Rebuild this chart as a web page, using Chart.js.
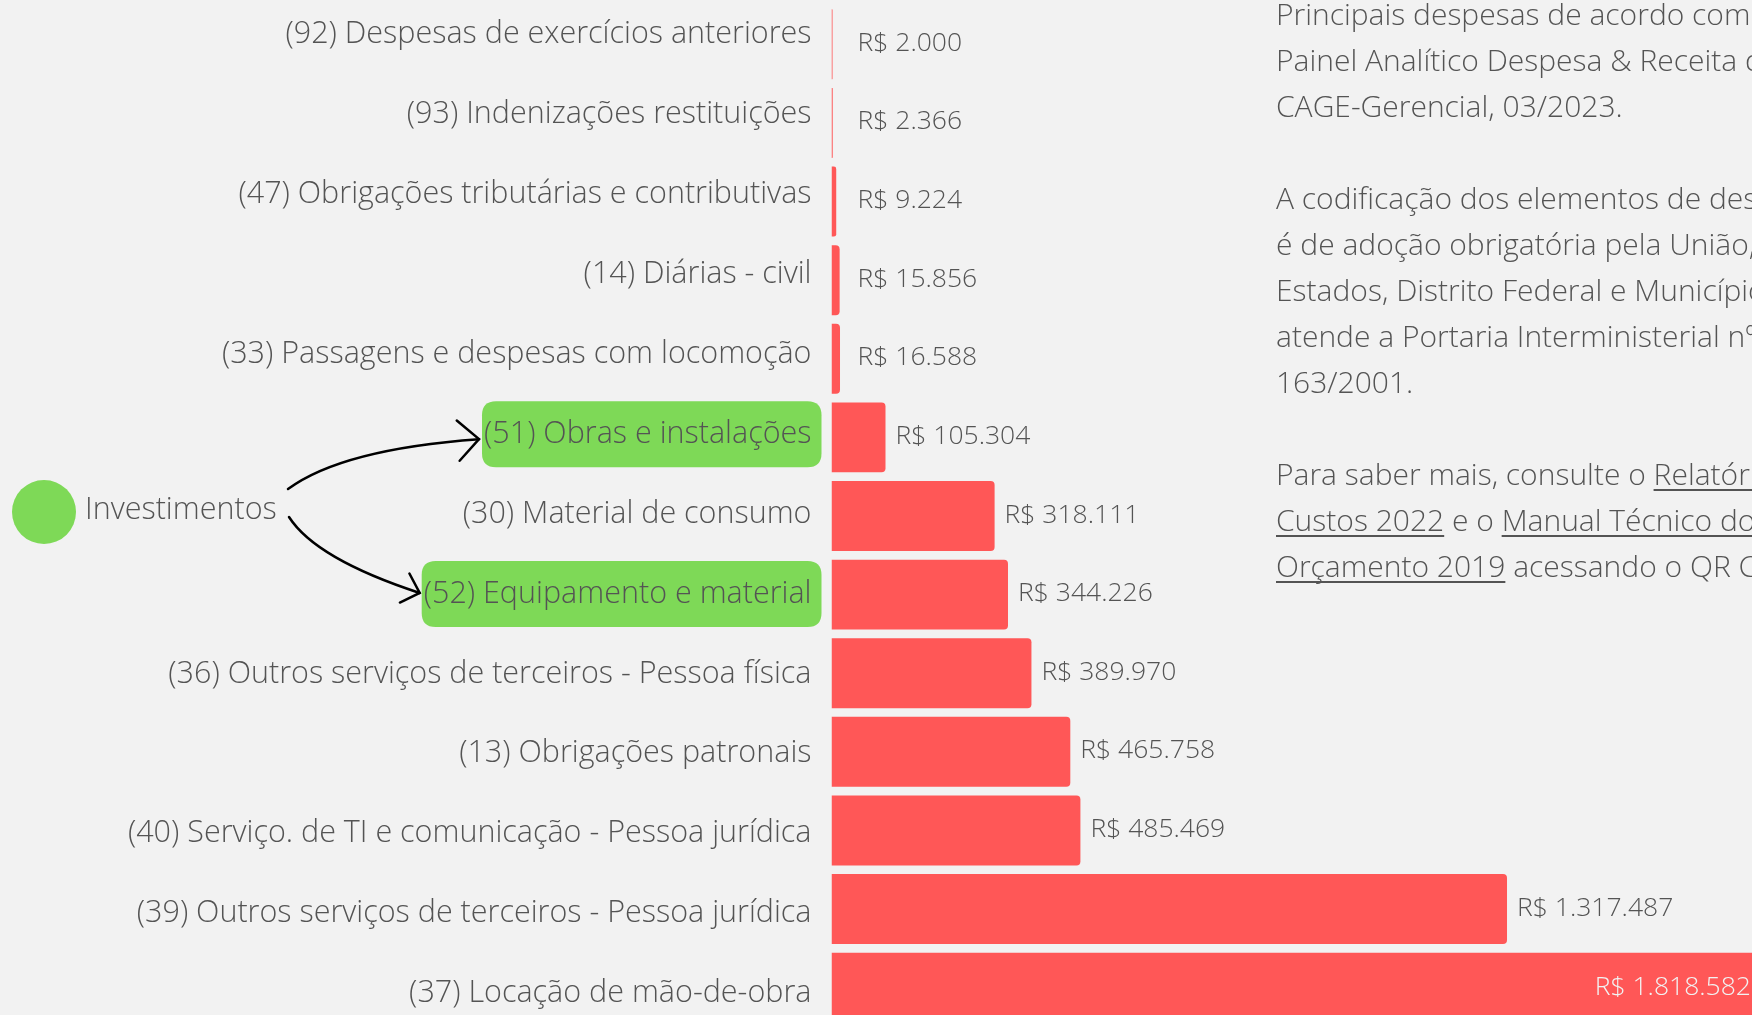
<!DOCTYPE html>
<html lang="pt-BR">
<head>
<meta charset="UTF-8">
<title>Principais despesas por elemento</title>
<script src="https://cdn.jsdelivr.net/npm/chart.js"></script>
<style>
  html, body { margin: 0; padding: 0; background: #f2f2f2; overflow: hidden; }
  canvas { display: block; }
</style>
</head>
<body>
<canvas id="despesas" width="1752" height="1027"></canvas>
<script>
// elementos de despesa, do menor para o maior
const categorias = [
  '(92) Despesas de exercícios anteriores',
  '(93) Indenizações restituições',
  '(47) Obrigações tributárias e contributivas',
  '(14) Diárias - civil',
  '(33) Passagens e despesas com locomoção',
  '(51) Obras e instalações',
  '(30) Material de consumo',
  '(52) Equipamento e material',
  '(36) Outros serviços de terceiros - Pessoa física',
  '(13) Obrigações patronais',
  '(40) Serviço. de TI e comunicação - Pessoa jurídica',
  '(39) Outros serviços de terceiros - Pessoa jurídica',
  '(37) Locação de mão-de-obra'
];
const valores = [2000, 2366, 9224, 15856, 16588, 105304, 318111, 344226, 389970, 465758, 485469, 1317487, 1818582];
const investimentos = ['(51) Obras e instalações', '(52) Equipamento e material'];

// texto lateral: cada linha é uma lista de trechos [texto, sublinhado]
const notas = [
  [['Principais despesas de acordo com o', false]],
  [['Painel Analítico Despesa & Receita do', false]],
  [['CAGE-Gerencial, 03/2023.', false]],
  [],
  [['A codificação dos elementos de despesa', false]],
  [['é de adoção obrigatória pela União,', false]],
  [['Estados, Distrito Federal e Municípios e', false]],
  [['atende a Portaria Interministerial nº', false]],
  [['163/2001.', false]],
  [],
  [['Para saber mais, consulte o ', false], ['Relatório de', true]],
  [['Custos 2022', true], [' e o ', false], ['Manual Técnico do', true]],
  [['Orçamento 2019', true], [' acessando o QR Code.', false]]
];

const VERMELHO = '#ff5757';
const VERDE = '#7ed957';
const CINZA = '#545454';
const FONTE = '"Open Sans", sans-serif';
const PESO = 300;
const TAM_ROTULO = 30.5;

const fmtReal = v => 'R$ ' + v.toLocaleString('pt-BR');

function caixaArredondada(ctx, x, y, w, h, r) {
  ctx.beginPath();
  ctx.moveTo(x + r, y);
  ctx.lineTo(x + w - r, y);
  ctx.quadraticCurveTo(x + w, y, x + w, y + r);
  ctx.lineTo(x + w, y + h - r);
  ctx.quadraticCurveTo(x + w, y + h, x + w - r, y + h);
  ctx.lineTo(x + r, y + h);
  ctx.quadraticCurveTo(x, y + h, x, y + h - r);
  ctx.lineTo(x, y + r);
  ctx.quadraticCurveTo(x, y, x + r, y);
  ctx.closePath();
}

function seta(ctx, x0, y0, cx, cy, x1, y1, ponta) {
  ctx.beginPath();
  ctx.moveTo(x0, y0);
  ctx.quadraticCurveTo(cx, cy, x1, y1);
  ctx.stroke();
  const ang = Math.atan2(y1 - cy, x1 - cx);
  const abre = 44 * Math.PI / 180;
  ctx.beginPath();
  ctx.moveTo(x1 + ponta * Math.cos(ang + Math.PI - abre), y1 + ponta * Math.sin(ang + Math.PI - abre));
  ctx.lineTo(x1, y1);
  ctx.lineTo(x1 + ponta * Math.cos(ang + Math.PI + abre), y1 + ponta * Math.sin(ang + Math.PI + abre));
  ctx.stroke();
}

// caixas verdes atrás dos rótulos de investimento, bolinha e setas
const destaque = {
  id: 'destaque',
  beforeDraw(chart) {
    const ctx = chart.ctx;
    const eixo = chart.scales.rotulos;
    const fimRotulo = chart.chartArea.left - 20;
    ctx.save();
    ctx.font = `${PESO} ${TAM_ROTULO}px ${FONTE}`;
    const caixas = investimentos.map(nome => {
      const i = categorias.indexOf(nome);
      const cy = eixo.getPixelForValue(i);
      const w = ctx.measureText(nome).width;
      const x = fimRotulo - w - 2;
      ctx.fillStyle = VERDE;
      caixaArredondada(ctx, x, cy - 33, fimRotulo + 10 - x, 66, 14);
      ctx.fill();
      return { x, cy };
    });

    ctx.fillStyle = VERDE;
    ctx.beginPath();
    ctx.arc(44, 512, 32, 0, 2 * Math.PI);
    ctx.fill();
    ctx.fillStyle = CINZA;
    ctx.textBaseline = 'middle';
    ctx.fillText('Investimentos', 85, 510);

    ctx.strokeStyle = '#000';
    ctx.lineWidth = 2.5;
    ctx.lineCap = 'round';
    const [a, b] = caixas;
    seta(ctx, 288, 489, 342, 449, a.x - 3, a.cy + 5, 29);
    seta(ctx, 289, 517, 316, 559, b.x - 2, b.cy - 1, 22);
    ctx.restore();
  }
};

// valores ao lado de cada barra
const valoresBarras = {
  id: 'valoresBarras',
  afterDatasetsDraw(chart) {
    const ctx = chart.ctx;
    const meta = chart.getDatasetMeta(0);
    const area = chart.chartArea;
    ctx.save();
    ctx.font = `${PESO} 26.5px ${FONTE}`;
    ctx.textBaseline = 'middle';
    meta.data.forEach((bar, i) => {
      const txt = fmtReal(valores[i]);
      if (bar.x > area.right) {
        ctx.fillStyle = '#f2f2f2';
        ctx.textAlign = 'right';
        ctx.fillText(txt, area.right - 1, bar.y);
      } else {
        ctx.fillStyle = CINZA;
        ctx.textAlign = 'left';
        ctx.fillText(txt, Math.max(bar.x + 10, area.left + 26), bar.y - 1);
      }
    });
    ctx.restore();
  }
};

// bloco de texto à direita
const textoLateral = {
  id: 'textoLateral',
  afterDraw(chart) {
    const ctx = chart.ctx;
    ctx.save();
    ctx.font = `${PESO} 30px ${FONTE}`;
    ctx.fillStyle = CINZA;
    ctx.strokeStyle = CINZA;
    ctx.lineWidth = 2;
    ctx.textBaseline = 'alphabetic';
    notas.forEach((linha, n) => {
      const base = 25 + 46 * n;
      let x = 1276;
      linha.forEach(([txt, sub]) => {
        ctx.fillText(txt, x, base);
        const w = ctx.measureText(txt).width;
        if (sub) {
          ctx.beginPath();
          ctx.moveTo(x, base + 5);
          ctx.lineTo(x + w, base + 5);
          ctx.stroke();
        }
        x += w;
      });
    });
    ctx.restore();
  }
};

new Chart(document.getElementById('despesas'), {
  type: 'bar',
  data: {
    labels: categorias,
    datasets: [{
      data: valores,
      backgroundColor: VERMELHO,
      borderRadius: 4,
      borderSkipped: 'start',
      barPercentage: 0.89,
      categoryPercentage: 1
    }]
  },
  options: {
    indexAxis: 'y',
    responsive: false,
    animation: false,
    layout: { padding: { top: 5, right: 0, bottom: 0, left: 0 } },
    plugins: { legend: { display: false }, tooltip: { enabled: false } },
    scales: {
      x: { display: false, min: 0, max: 1795300 },
      y: { display: false },
      // eixo só para os nomes: espaçamento um pouco maior que o das barras
      rotulos: {
        type: 'linear',
        position: 'left',
        reverse: true,
        offset: false,
        min: -0.371,
        max: 12.42,
        grid: { display: false, drawTicks: false },
        border: { display: false },
        afterBuildTicks(scale) {
          scale.ticks = categorias.map((_, i) => ({ value: i }));
        },
        ticks: {
          callback: v => categorias[v],
          color: CINZA,
          font: { family: FONTE, size: TAM_ROTULO, weight: PESO },
          padding: 20,
          autoSkip: false
        },
        afterFit(scale) {
          // largura fixa do eixo e sem folga vertical para os rótulos
          scale.width = 831.5;
          scale.paddingTop = 0;
          scale.paddingBottom = 0;
        }
      }
    }
  },
  plugins: [destaque, valoresBarras, textoLateral]
});
</script>
</body>
</html>
